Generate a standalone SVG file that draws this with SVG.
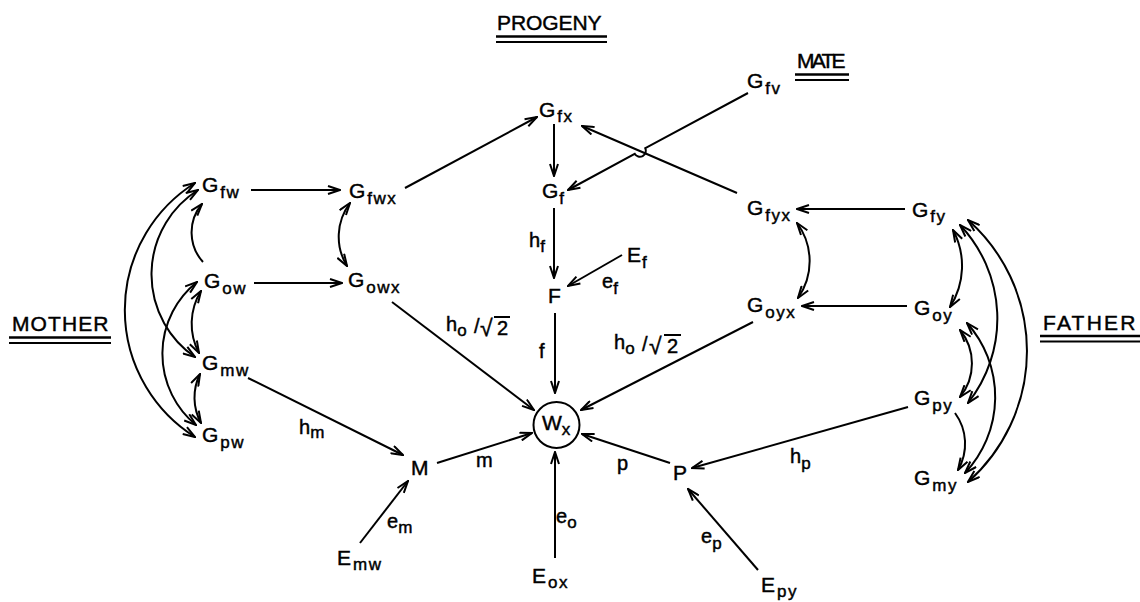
<svg xmlns="http://www.w3.org/2000/svg" width="1140" height="602" viewBox="0 0 1140 602">
<style>
text{font-family:"Liberation Sans",Arial,sans-serif;fill:#000;stroke:#000;stroke-width:0.45}
.n{font-size:21px}
.l{font-size:20px}
.s{font-size:17px;letter-spacing:1.5px}
.h{font-size:21px;letter-spacing:1.5px}
.r{font-size:23px}
.c path,.c line{stroke:#000;stroke-width:2;fill:none}
.a{marker-end:url(#ah)}
.d{marker-start:url(#ah);marker-end:url(#ah)}
.u{stroke:#000;fill:none}
</style>
<defs>
<marker id="ah" viewBox="0 0 14 10" refX="13" refY="5" markerWidth="14" markerHeight="10" markerUnits="userSpaceOnUse" orient="auto-start-reverse">
<path d="M1,1 L13,5 L1,9" fill="none" stroke="#000" stroke-width="2"/>
</marker>
</defs>
<rect width="1140" height="602" fill="#fff"/>

<g id="headers">
<text class="h" x="497" y="30" textLength="106">PROGENY</text>
<line class="u" x1="496" y1="36.5" x2="607" y2="36.5" stroke-width="2.5"/>
<line class="u" x1="496" y1="42" x2="607" y2="42" stroke-width="2"/>
<text class="h" x="797" y="68" textLength="50">MATE</text>
<line class="u" x1="795" y1="74.5" x2="849" y2="74.5" stroke-width="2.5"/>
<line class="u" x1="795" y1="80" x2="849" y2="80" stroke-width="2"/>
<text class="h" x="12" y="331" textLength="98">MOTHER</text>
<line class="u" x1="9" y1="337.5" x2="111" y2="337.5" stroke-width="2.5"/>
<line class="u" x1="9" y1="343" x2="111" y2="343" stroke-width="2"/>
<text class="h" x="1043" y="330" textLength="94">FATHER</text>
<line class="u" x1="1040" y1="336" x2="1140" y2="336" stroke-width="2.5"/>
<line class="u" x1="1040" y1="341.5" x2="1140" y2="341.5" stroke-width="2"/>
</g>

<g id="connectors" class="c">
<line class="a" x1="251" y1="190" x2="340" y2="190"/>
<line class="a" x1="254" y1="283" x2="342" y2="283"/>
<line class="a" x1="905" y1="209" x2="797" y2="209"/>
<line class="a" x1="907" y1="306" x2="802" y2="306"/>
<line class="a" x1="405" y1="188" x2="537" y2="117"/>
<line class="a" x1="554" y1="124" x2="554" y2="176"/>
<line class="a" x1="737" y1="193" x2="582" y2="126"/>
<path class="a" d="M748,93 L645.3,148.2 A6,6 0 0 1 634.7,153.8 L568,190"/>
<line class="a" x1="554" y1="208" x2="554" y2="278"/>
<line class="a" x1="622" y1="255" x2="568" y2="286"/>
<line class="a" x1="392" y1="302" x2="534" y2="410"/>
<line class="a" x1="555" y1="313" x2="555" y2="393"/>
<line class="a" x1="753" y1="322" x2="581" y2="410"/>
<line class="a" x1="248" y1="378" x2="403" y2="455"/>
<line class="a" x1="437" y1="463" x2="532" y2="433"/>
<line class="a" x1="360" y1="543" x2="408" y2="481"/>
<line class="a" x1="555" y1="558" x2="555" y2="452"/>
<line class="a" x1="670" y1="463" x2="582" y2="434"/>
<line class="a" x1="908" y1="407" x2="692" y2="468"/>
<line class="a" x1="758" y1="570" x2="688" y2="489"/>
<path class="d" d="M195,183 A150,150 0 0 0 195,437"/>
<path class="d" d="M198,190 A100,100 0 0 0 195,357"/>
<path class="d" d="M197,282 A92,92 0 0 0 196,425"/>
<path class="a" d="M203,262 A44,44 0 0 1 202,204"/>
<path class="d" d="M201,291 A62,62 0 0 0 199,353"/>
<path class="d" d="M200,374 A53,53 0 0 0 201,423"/>
<path class="d" d="M350,203 A56,56 0 0 0 347,266"/>
<path class="d" d="M797,223 A64,64 0 0 1 798,298"/>
<path class="d" d="M968,220 A175,175 0 0 1 968,482"/>
<path class="d" d="M960,225 A136,136 0 0 1 968,403"/>
<path class="d" d="M967,323 A111,111 0 0 1 965,473"/>
<path class="d" d="M953,230 A76,76 0 0 1 950,307"/>
<path class="d" d="M960,330 A53,53 0 0 1 960,397"/>
<path class="a" d="M955,413 A52,52 0 0 1 958,470"/>
</g>

<g id="Gfw"><text class="n" x="202" y="192">G<tspan class="s" dx="2" dy="6">fw</tspan></text></g>
<g id="Gow"><text class="n" x="204" y="288">G<tspan class="s" dx="2" dy="6">ow</tspan></text></g>
<g id="Gmw"><text class="n" x="202" y="370">G<tspan class="s" dx="2" dy="6">mw</tspan></text></g>
<g id="Gpw"><text class="n" x="202" y="442">G<tspan class="s" dx="2" dy="6">pw</tspan></text></g>
<g id="Gfwx"><text class="n" x="349" y="198">G<tspan class="s" dx="2" dy="6">fwx</tspan></text></g>
<g id="Gowx"><text class="n" x="348" y="287">G<tspan class="s" dx="2" dy="6">owx</tspan></text></g>
<g id="Gfx"><text class="n" x="539" y="117">G<tspan class="s" dx="2" dy="5">fx</tspan></text></g>
<g id="Gf"><text class="n" x="542" y="198">G<tspan class="s" dx="1" dy="6">f</tspan></text></g>
<g id="Gfv"><text class="n" x="747" y="88">G<tspan class="s" dx="2" dy="6">fv</tspan></text></g>
<g id="F"><text class="n" x="548" y="303">F</text></g>
<g id="Ef"><text class="n" x="627" y="262">E<tspan class="s" dx="1" dy="6">f</tspan></text></g>
<g id="Gfyx"><text class="n" x="747" y="215">G<tspan class="s" dx="2" dy="6">fyx</tspan></text></g>
<g id="Goyx"><text class="n" x="747" y="312">G<tspan class="s" dx="2" dy="6">oyx</tspan></text></g>
<g id="Gfy"><text class="n" x="912" y="217">G<tspan class="s" dx="2" dy="5">fy</tspan></text></g>
<g id="Goy"><text class="n" x="914" y="315">G<tspan class="s" dx="2" dy="6">oy</tspan></text></g>
<g id="Gpy"><text class="n" x="914" y="405">G<tspan class="s" dx="2" dy="6">py</tspan></text></g>
<g id="Gmy"><text class="n" x="914" y="485">G<tspan class="s" dx="2" dy="6">my</tspan></text></g>
<g id="Wx"><circle cx="556.5" cy="425" r="23" fill="none" stroke="#000" stroke-width="2"/><text class="n" x="542" y="430">W<tspan class="s" dx="0" dy="5">x</tspan></text></g>
<g id="M"><text class="n" x="411" y="475">M</text></g>
<g id="P"><text class="n" x="673" y="480">P</text></g>
<g id="Emw"><text class="n" x="337" y="565">E<tspan class="s" dx="2" dy="5">mw</tspan></text></g>
<g id="Eox"><text class="n" x="532" y="583">E<tspan class="s" dx="2" dy="5">ox</tspan></text></g>
<g id="Epy"><text class="n" x="761" y="592">E<tspan class="s" dx="2" dy="5">py</tspan></text></g>

<g id="labels">
<text class="l" x="529" y="247">h<tspan class="s" dy="5">f</tspan></text>
<text class="l" x="602" y="288">e<tspan class="s" dy="6">f</tspan></text>
<text class="l" x="539" y="358">f</text>
<text class="l" x="299" y="434">h<tspan class="s" dy="4">m</tspan></text>
<text class="l" x="476" y="467">m</text>
<text class="l" x="617" y="470">p</text>
<text class="l" x="387" y="528">e<tspan class="s" dy="5">m</tspan></text>
<text class="l" x="556" y="523">e<tspan class="s" dy="5">o</tspan></text>
<text class="l" x="701" y="543">e<tspan class="s" dy="6">p</tspan></text>
<text class="l" x="790" y="463">h<tspan class="s" dy="6">p</tspan></text>
<g id="ho-left">
<text class="l" x="446" y="331">h<tspan class="s" dy="5">o</tspan></text>
<text class="l" x="474" y="333">/</text>
<text class="r" x="480" y="336">√</text>
<text class="l" x="497" y="335">2</text>
<line class="u" x1="494" y1="317" x2="510" y2="317" stroke-width="2"/>
</g>
<g id="ho-right">
<text class="l" x="614" y="349">h<tspan class="s" dy="5">o</tspan></text>
<text class="l" x="642" y="351">/</text>
<text class="r" x="649" y="354">√</text>
<text class="l" x="667" y="353">2</text>
<line class="u" x1="664" y1="335" x2="681" y2="335" stroke-width="2"/>
</g>
</g>
</svg>
